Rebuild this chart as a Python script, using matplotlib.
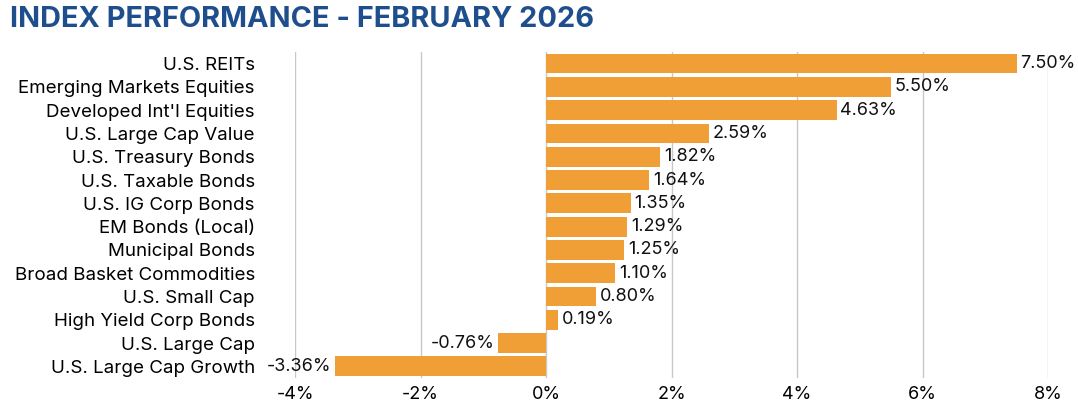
import matplotlib
from matplotlib import pyplot as plt

matplotlib.use('Agg')

categories = [
    "U.S. REITs", "Emerging Markets Equities", "Developed Int'l Equities",
    "U.S. Large Cap Value", "U.S. Treasury Bonds", "U.S. Taxable Bonds",
    "U.S. IG Corp Bonds", "EM Bonds (Local)", "Municipal Bonds",
    "Broad Basket Commodities", "U.S. Small Cap", "High Yield Corp Bonds",
    "U.S. Large Cap", "U.S. Large Cap Growth",
]
returns = [7.50, 5.50, 4.63, 2.59, 1.82, 1.64, 1.35, 1.29, 1.25, 1.10,
           0.80, 0.19, -0.76, -3.36]
x_ticks = [-4, -2, 0, 2, 4, 6, 8]

plt.rcParams['font.family'] = ['Inter', 'DejaVu Sans']

fig = plt.figure(figsize=(10.78, 4.12), dpi=100)
ax = fig.add_axes([0.2737, 0.0825, 0.6985, 0.7915])

posities = list(range(len(categories)))
ax.barh(posities, returns, height=0.85, color='#EF9F36', zorder=2)

# Waardelabels naast de balken
for y, v in zip(posities, returns):
    if v >= 0:
        ax.text(v + 0.06, y, f'{v:.2f}%', va='center', ha='left',
                fontsize=13, color='#111111')
    else:
        ax.text(v - 0.06, y, f'{v:.2f}%', va='center', ha='right',
                fontsize=13, color='#111111')

ax.set_xlim(-4, 8)
ax.set_ylim(len(categories) - 0.5, -0.5)
ax.set_xticks(x_ticks)
ax.set_xticklabels([f'{t}%' for t in x_ticks], fontsize=13)
ax.set_yticks(posities)
ax.set_yticklabels(categories, fontsize=13.5)
ax.tick_params(axis='x', length=0, pad=6)
ax.tick_params(axis='y', length=0, pad=29)

ax.grid(axis='x', color='#c8c8c8', linewidth=1, zorder=0)
for s in ax.spines.values():
    s.set_visible(False)

fig.text(0.009, 0.953, 'INDEX PERFORMANCE - FEBRUARY 2026', fontsize=20.8,
         fontweight='bold', color='#1E4F8C', ha='left', va='center')

plt.savefig('out.png', dpi=100)
